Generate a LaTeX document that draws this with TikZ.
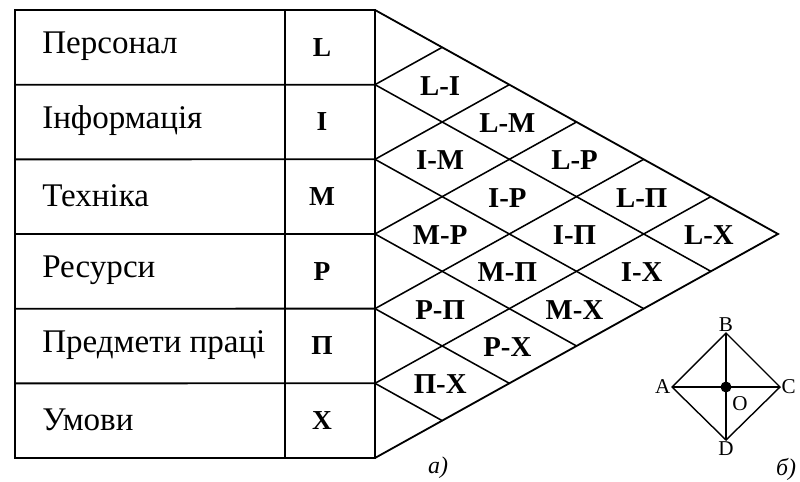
\documentclass[tikz,border=0pt]{standalone}
\usepackage{fontspec}
\setmainfont{Liberation Serif}
\usetikzlibrary{calc}

\begin{document}
\begin{tikzpicture}[
  x=0.025cm, y=-0.025cm,
  frame/.style={line width=1.3pt},
  grid/.style={line width=1.1pt},
  factor/.style={anchor=west, inner sep=0pt, font=\fontsize{23.5}{27}\selectfont},
  code/.style={font=\fontsize{19.5}{23}\selectfont\bfseries},
  pair/.style={font=\fontsize{20.5}{24}\selectfont\bfseries},
  vertex/.style={inner sep=1pt, font=\fontsize{15}{18}\selectfont},
  caption/.style={font=\fontsize{17}{20}\selectfont\itshape}
]
\useasboundingbox (0,0) rectangle (800,481);

% Grid points of the triangle: g<i>-<j>
\foreach \i in {0,...,6}
  \foreach \j in {0,...,\i}
    \coordinate (g\i-\j) at ({375+67.17*(\i-\j)}, {10+37.33*(\i+\j)});

% Table (a)
\draw[frame] (15,10) rectangle (375,458);
\draw[frame] (285,10) -- (285,458);
\foreach \k in {1,...,5}
  \draw[frame] (15,{10+74.67*\k}) -- (g\k-\k);

\foreach \name/\code [count=\k from 0] in
  {Персонал/L, Інформація/I, Техніка/M, Ресурси/P, Предмети праці/П, Умови/X} {
  \node[factor] (f\k) at (42,{46+74.67*\k}) {\name};
  \node[code] (c\k) at (322,{47.3+74.67*\k}) {\code};
}

% Triangle of pairs
\draw[frame] (g0-0) -- (g6-0) -- (g6-6);
\foreach \k in {1,...,5} {
  \draw[grid] (g\k-\k) -- (g6-\k);
  \draw[grid] (g\k-0) -- (g\k-\k);
}

\foreach \lbl/\i/\j in {L-I/1/0, L-M/2/0, L-P/3/0, L-П/4/0, L-X/5/0,
    I-M/2/1, I-P/3/1, I-П/4/1, I-X/5/1,
    M-P/3/2, M-П/4/2, M-X/5/2,
    P-П/4/3, P-X/5/3,
    П-X/5/4}
  \node[pair] (p\i\j) at ({373+67.17*(\i-\j)}, {11+37.33*(\i+\j+1)}) {\lbl};

\node[caption] (capa) at (438,468) {а)};

% Rhombus (b)
\coordinate (A) at (672,387);
\coordinate (B) at (726,333);
\coordinate (C) at (780,387);
\coordinate (D) at (726,440);
\coordinate (O) at (726,387);
\draw[line width=1pt] (A) -- (B) -- (C) -- (D) -- cycle;
\draw[line width=1pt] (A) -- (C) (B) -- (D);
\fill (O) circle (5.5);

\node[vertex, anchor=east] (lA) at (A) {A};
\node[vertex, anchor=south] (lB) at (B) {B};
\node[vertex, anchor=west] (lC) at (C) {C};
\node[vertex, anchor=north] (lD) at (D) {D};
\node[vertex] (lO) at (740,404) {O};

\node[caption] (capb) at (786,469) {б)};

\end{tikzpicture}
\end{document}
